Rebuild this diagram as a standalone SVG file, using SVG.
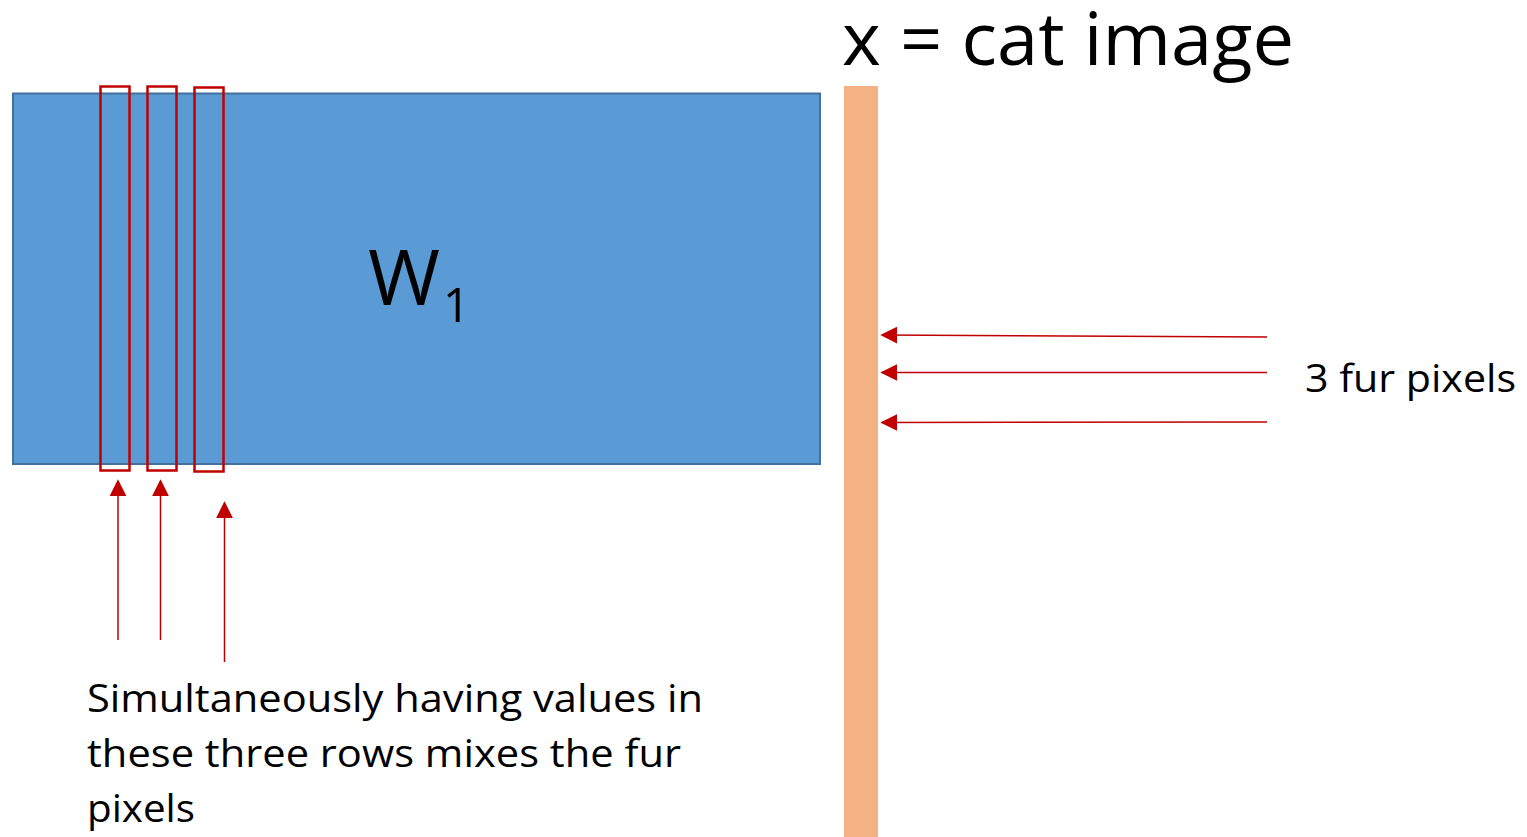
<svg xmlns="http://www.w3.org/2000/svg" width="1527" height="837" viewBox="0 0 1527 837">
<defs>
<style>
.t{font-family:"Open Sans","Noto Sans","Liberation Sans",sans-serif;fill:#000}
.sel{fill:none;stroke:#C00000;stroke-width:2.5}
.arr{stroke:#C00000;stroke-width:1.5;fill:none;marker-end:url(#ah)}
</style>
<marker id="ah" viewBox="0 0 10 10" refX="9" refY="5" markerWidth="17" markerHeight="17" markerUnits="userSpaceOnUse" orient="auto">
<path d="M0,0 L10,5 L0,10 z" fill="#C00000"/>
</marker>
</defs>
<rect width="1527" height="837" fill="#fff"/>
<g id="w1">
<rect x="13" y="93.5" width="807" height="370.5" fill="#5B9BD5" stroke="#41719C" stroke-width="2"/>
<text class="t" x="368" y="305" font-size="77" textLength="72" lengthAdjust="spacingAndGlyphs">W</text>
<text class="t" x="443" y="322" font-size="47" textLength="27" lengthAdjust="spacingAndGlyphs">1</text>
</g>
<g id="rows">
<rect class="sel" x="100.5" y="86.5" width="29" height="384"/>
<rect class="sel" x="147.5" y="86.5" width="29" height="384"/>
<rect class="sel" x="194.5" y="87.5" width="29" height="384"/>
</g>
<g id="x">
<rect x="844" y="86" width="34" height="751" fill="#F4B183"/>
<text class="t" x="842" y="65" font-size="73" textLength="452" lengthAdjust="spacingAndGlyphs">x = cat image</text>
</g>
<g id="fur-label">
<text class="t" x="1305" y="392" font-size="38" textLength="211" lengthAdjust="spacingAndGlyphs">3 fur pixels</text>
</g>
<g id="caption">
<text class="t" x="87" y="712" font-size="38" textLength="616" lengthAdjust="spacingAndGlyphs">Simultaneously having values in</text>
<text class="t" x="87" y="767" font-size="38" textLength="594" lengthAdjust="spacingAndGlyphs">these three rows mixes the fur</text>
<text class="t" x="87" y="822" font-size="38" textLength="108" lengthAdjust="spacingAndGlyphs">pixels</text>
</g>
<g id="connectors">
<path class="arr" d="M1267,337 L882,335"/>
<path class="arr" d="M1267,372.5 L882,372.5"/>
<path class="arr" d="M1267,422 L882,422.5"/>
<path class="arr" d="M118,640 L118,481"/>
<path class="arr" d="M160.5,640 L160.5,481"/>
<path class="arr" d="M224.5,662 L224.5,503"/>
</g>
</svg>
